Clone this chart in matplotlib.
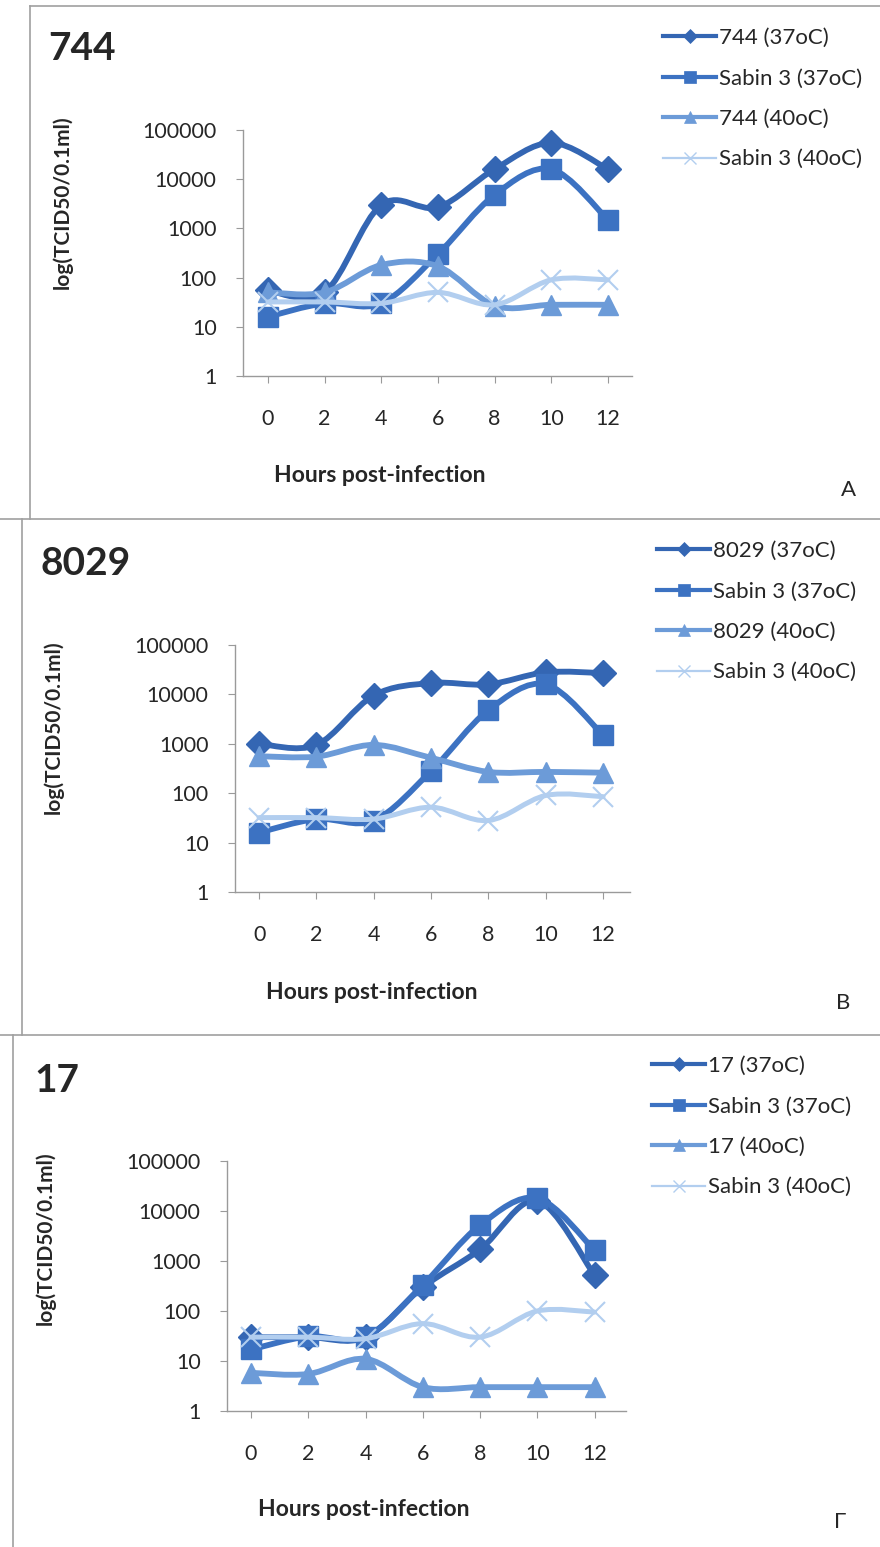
import numpy as np
import matplotlib
matplotlib.use('Agg')
import matplotlib.pyplot as plt
from matplotlib.path import Path
from matplotlib.patches import PathPatch
from matplotlib.lines import Line2D

plt.rcParams['font.family'] = ['Lato', 'DejaVu Sans']

hours = [0, 2, 4, 6, 8, 10, 12]
yticks = [1, 10, 100, 1000, 10000, 100000]

# panel A - 744
a_744_37 = [55, 50, 3000, 2700, 16000, 55000, 16000]
a_sabin_37 = [16, 30, 30, 300, 4800, 16000, 1500]
a_744_40 = [50, 50, 180, 170, 27, 28, 28]
a_sabin_40 = [32, 32, 30, 50, 28, 90, 90]

# panel B - 8029
b_8029_37 = [1000, 950, 9500, 17000, 16000, 28000, 27000]
b_sabin_37 = [16, 30, 28, 280, 4800, 16000, 1500]
b_8029_40 = [560, 550, 950, 520, 270, 270, 260]
b_sabin_40 = [32, 32, 30, 52, 28, 90, 85]

# panel C - 17
c_17_37 = [30, 30, 30, 300, 1700, 16000, 520]
c_sabin_37 = [17, 31, 30, 330, 5200, 18000, 1650]
c_17_40 = [5.8, 5.5, 11, 3, 3, 3, 3]
c_sabin_40 = [30, 30, 28, 56, 30, 100, 95]

colors = ['#3466B3', '#3C72C2', '#6C9BD8', '#B2CEEF']
markers = ['D', 's', '^', 'x']
msizes = [13, 15, 15, 15]
W, H = 880, 1547


def fx(px):
    return px / W


def fy(py):
    return 1 - py / H


def smooth_path(xs, ys):
    # excel-like smoothed line: bezier segments through the data points
    lx = np.asarray(xs, float)
    ly = np.log10(np.asarray(ys, float))
    n = len(lx)
    verts = [(lx[0], ly[0])]
    codes = [Path.MOVETO]
    for i in range(n - 1):
        a = max(i - 1, 0)
        b = min(i + 2, n - 1)
        c1 = (lx[i] + (lx[i + 1] - lx[a]) / 6, ly[i] + (ly[i + 1] - ly[a]) / 6)
        c2 = (lx[i + 1] - (lx[b] - lx[i]) / 6, ly[i + 1] - (ly[b] - ly[i]) / 6)
        verts += [c1, c2, (lx[i + 1], ly[i + 1])]
        codes += [Path.CURVE4] * 3
    verts = np.array(verts)
    verts[:, 1] = 10 ** verts[:, 1]
    return Path(verts, codes)


def panel(rect, xlim, series, names, title, tpos, ylab_pos, xlab_pos, letter, lpos, leg_xy):
    ax = fig.add_axes(rect)
    ax.set_yscale('log')
    for k, vals in enumerate(series):
        z = 2 + k
        lw = 3.6 if k == 3 else 4.2
        ax.add_patch(PathPatch(smooth_path(hours, vals), facecolor='none',
                               edgecolor=colors[k], lw=lw, zorder=z,
                               capstyle='round', joinstyle='round'))
        mew = 1.5 if k == 3 else 1
        ax.plot(hours, vals, ls='none', marker=markers[k], ms=msizes[k],
                color=colors[k], mec=colors[k], mew=mew, zorder=z + 0.5)
    ax.set_xlim(*xlim)
    ax.set_ylim(1, 100000)
    ax.set_xticks(hours)
    ax.set_xticklabels([str(h) for h in hours])
    ax.set_yticks(yticks)
    ax.set_yticklabels([str(t) for t in yticks])
    ax.minorticks_off()
    for s in ['top', 'right']:
        ax.spines[s].set_visible(False)
    for s in ['left', 'bottom']:
        ax.spines[s].set_color('#9a9a9a')
        ax.spines[s].set_linewidth(1)
    ax.tick_params(axis='both', colors='#9a9a9a', length=5, labelsize=15.5,
                   labelcolor='#262626')
    ax.tick_params(axis='x', pad=19)
    ax.tick_params(axis='y', pad=14)

    fig.text(fx(tpos[0]), fy(tpos[1]), title, fontsize=28, fontweight='bold',
             color='#262626', ha='left', va='center')
    fig.text(fx(ylab_pos[0]), fy(ylab_pos[1]), 'log(TCID50/0.1ml)', rotation=90,
             fontsize=15, fontweight='bold', color='#262626', ha='center',
             va='center')
    fig.text(fx(xlab_pos[0]), fy(xlab_pos[1]), 'Hours post-infection',
             fontsize=16.5, fontweight='bold', color='#262626', ha='center',
             va='center')
    fig.text(fx(lpos[0]), fy(lpos[1]), letter, fontsize=16, color='#262626',
             ha='center', va='center')

    handles = []
    for k in range(4):
        handles.append(Line2D([], [], color=colors[k], lw=1.6 if k == 3 else 3,
                              marker=markers[k], ms=msizes[k] * 0.55,
                              mew=1 if k == 3 else 0.5))
    ax.legend(handles, names, loc='upper left', bbox_to_anchor=(fx(leg_xy[0]), fy(leg_xy[1])),
              bbox_transform=fig.transFigure, frameon=False, fontsize=16,
              handlelength=2.4, handletextpad=0.1, labelspacing=0.92,
              borderpad=0, borderaxespad=0, labelcolor='#262626')
    return ax


fig = plt.figure(figsize=(8.8, 15.47), dpi=100)

panel([fx(243), fy(376), fx(632) - fx(243), fy(130) - fy(376)], (-0.88, 12.85),
      [a_744_37, a_sabin_37, a_744_40, a_sabin_40],
      ['744 (37oC)', 'Sabin 3 (37oC)', '744 (40oC)', 'Sabin 3 (40oC)'],
      '744', (48, 48), (62, 202), (380, 475), 'A', (848, 490), (663, 28))

panel([fx(235), fy(892), fx(630) - fx(235), fy(645) - fy(892)], (-0.84, 12.94),
      [b_8029_37, b_sabin_37, b_8029_40, b_sabin_40],
      ['8029 (37oC)', 'Sabin 3 (37oC)', '8029 (40oC)', 'Sabin 3 (40oC)'],
      '8029', (40, 563), (53, 727), (372, 992), 'B', (843, 1003), (657, 541))

panel([fx(227), fy(1411), fx(626) - fx(227), fy(1161) - fy(1411)], (-0.84, 13.1),
      [c_17_37, c_sabin_37, c_17_40, c_sabin_40],
      ['17 (37oC)', 'Sabin 3 (37oC)', '17 (40oC)', 'Sabin 3 (40oC)'],
      '17', (34, 1080), (45, 1238), (364, 1510), 'Γ', (840, 1522), (652, 1056))

# page borders from the scanned layout
for (x0, y0, x1, y1) in [(30, 6, 880, 6), (30, 6, 30, 519), (0, 519, 880, 519),
                         (22, 519, 22, 1035), (0, 1035, 880, 1035), (13, 1035, 13, 1547)]:
    fig.add_artist(Line2D([fx(x0), fx(x1)], [fy(y0), fy(y1)], color='#a0a0a0', lw=1.2))

fig.savefig('out.png', dpi=100)
